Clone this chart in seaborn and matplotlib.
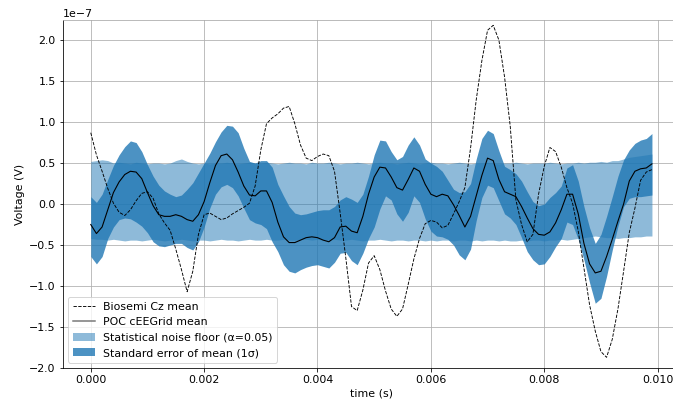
import numpy as np
import matplotlib
matplotlib.use("Agg")
import matplotlib.pyplot as plt
import seaborn as sns
from matplotlib.lines import Line2D
from matplotlib.patches import Patch

# sample times (s), one sample every 0.1 ms
t = np.arange(100) * 1e-4

# all voltages below are in units of 1e-7 V
biosemi_cz = [
    0.87, 0.60, 0.40, 0.19, 0.01, -0.10, -0.14, -0.07, 0.04, 0.13,
    0.15, 0.07, -0.12, -0.23, -0.32, -0.55, -0.80, -1.07, -0.82, -0.37,
    -0.13, -0.11, -0.15, -0.19, -0.17, -0.12, -0.08, -0.04, 0.01, 0.22,
    0.66, 0.98, 1.05, 1.10, 1.17, 1.19, 0.98, 0.72, 0.56, 0.53,
    0.58, 0.61, 0.59, 0.40, -0.11, -0.66, -1.25, -1.30, -1.05, -0.72,
    -0.63, -0.80, -1.06, -1.28, -1.37, -1.28, -0.98, -0.67, -0.42, -0.24,
    -0.20, -0.22, -0.29, -0.26, -0.12, 0.03, 0.20, 0.68, 1.27, 1.75,
    2.12, 2.18, 2.00, 1.55, 0.95, 0.05, -0.25, -0.46, -0.37, 0.12,
    0.46, 0.69, 0.64, 0.45, 0.20, 0.01, -0.33, -0.78, -1.23, -1.55,
    -1.80, -1.87, -1.65, -1.28, -0.82, -0.35, -0.05, 0.29, 0.39, 0.42,
]

poc_mean = [
    -0.25, -0.36, -0.28, -0.07, 0.14, 0.27, 0.36, 0.40, 0.39, 0.31,
    0.14, -0.02, -0.13, -0.15, -0.15, -0.13, -0.15, -0.19, -0.21, -0.13,
    0.03, 0.26, 0.47, 0.59, 0.61, 0.54, 0.39, 0.22, 0.11, 0.10,
    0.16, 0.16, 0.02, -0.22, -0.40, -0.47, -0.47, -0.44, -0.41, -0.40,
    -0.41, -0.44, -0.46, -0.41, -0.28, -0.27, -0.33, -0.35, -0.15, 0.12,
    0.33, 0.45, 0.44, 0.33, 0.20, 0.17, 0.30, 0.44, 0.40, 0.24,
    0.12, 0.09, 0.12, 0.10, -0.01, -0.14, -0.28, -0.15, 0.10, 0.35,
    0.56, 0.53, 0.30, 0.15, 0.12, 0.09, -0.03, -0.17, -0.30, -0.37,
    -0.38, -0.34, -0.23, -0.07, 0.12, 0.12, -0.12, -0.48, -0.73, -0.84,
    -0.82, -0.64, -0.43, -0.21, 0.00, 0.28, 0.40, 0.43, 0.44, 0.49,
]

sem_upper = [
    0.09, 0.02, 0.12, 0.30, 0.47, 0.60, 0.70, 0.77, 0.75, 0.64,
    0.48, 0.34, 0.23, 0.16, 0.12, 0.09, 0.11, 0.18, 0.26, 0.38,
    0.50, 0.62, 0.76, 0.88, 0.96, 0.95, 0.87, 0.68, 0.52, 0.50,
    0.53, 0.53, 0.45, 0.24, 0.10, -0.03, -0.11, -0.13, -0.12, -0.10,
    -0.08, -0.07, -0.07, -0.03, 0.05, 0.09, 0.06, 0.02, 0.12, 0.34,
    0.60, 0.78, 0.77, 0.64, 0.54, 0.58, 0.72, 0.82, 0.72, 0.55,
    0.50, 0.46, 0.40, 0.29, 0.18, 0.14, 0.15, 0.25, 0.55, 0.80,
    0.90, 0.86, 0.65, 0.46, 0.42, 0.37, 0.28, 0.15, 0.03, -0.02,
    0.00, 0.08, 0.14, 0.22, 0.44, 0.48, 0.28, -0.03, -0.29, -0.48,
    -0.37, -0.15, 0.09, 0.34, 0.54, 0.66, 0.74, 0.78, 0.80, 0.86,
]

sem_lower = [
    -0.64, -0.73, -0.64, -0.42, -0.28, -0.19, -0.17, -0.18, -0.22, -0.27,
    -0.35, -0.46, -0.51, -0.52, -0.50, -0.48, -0.48, -0.53, -0.56, -0.46,
    -0.28, -0.05, 0.12, 0.21, 0.24, 0.20, 0.10, -0.05, -0.19, -0.23,
    -0.25, -0.30, -0.46, -0.58, -0.74, -0.82, -0.84, -0.80, -0.77, -0.75,
    -0.74, -0.76, -0.78, -0.71, -0.60, -0.59, -0.69, -0.74, -0.60, -0.42,
    -0.28, -0.06, 0.10, 0.05, -0.12, -0.21, -0.10, 0.10, 0.02, -0.18,
    -0.33, -0.39, -0.40, -0.43, -0.50, -0.62, -0.68, -0.55, -0.20, 0.08,
    0.23, 0.20, 0.04, -0.12, -0.17, -0.25, -0.41, -0.58, -0.68, -0.74,
    -0.73, -0.64, -0.52, -0.42, -0.22, -0.25, -0.43, -0.68, -0.96, -1.21,
    -1.15, -0.88, -0.56, -0.27, -0.03, 0.07, 0.09, 0.09, 0.10, 0.11,
]

noise_upper = [
    0.52, 0.53, 0.54, 0.53, 0.50, 0.51, 0.50, 0.49, 0.51, 0.50,
    0.49, 0.50, 0.50, 0.49, 0.50, 0.53, 0.55, 0.52, 0.50, 0.49,
    0.50, 0.49, 0.50, 0.50, 0.51, 0.50, 0.49, 0.50, 0.51, 0.50,
    0.50, 0.51, 0.50, 0.49, 0.50, 0.51, 0.50, 0.50, 0.49, 0.51,
    0.50, 0.50, 0.51, 0.50, 0.49, 0.50, 0.50, 0.51, 0.50, 0.49,
    0.50, 0.51, 0.50, 0.50, 0.49, 0.50, 0.51, 0.50, 0.49, 0.50,
    0.51, 0.50, 0.50, 0.49, 0.50, 0.51, 0.50, 0.49, 0.50, 0.50,
    0.51, 0.50, 0.49, 0.50, 0.50, 0.51, 0.50, 0.49, 0.50, 0.50,
    0.50, 0.51, 0.50, 0.49, 0.50, 0.50, 0.51, 0.50, 0.51, 0.51,
    0.52, 0.51, 0.53, 0.53, 0.55, 0.57, 0.58, 0.59, 0.60, 0.61,
]

noise_lower = [
    -0.42, -0.43, -0.43, -0.44, -0.43, -0.44, -0.45, -0.44, -0.44, -0.45,
    -0.44, -0.43, -0.44, -0.45, -0.44, -0.44, -0.43, -0.44, -0.45, -0.44,
    -0.44, -0.45, -0.44, -0.43, -0.44, -0.44, -0.45, -0.44, -0.43, -0.44,
    -0.44, -0.43, -0.44, -0.44, -0.43, -0.44, -0.44, -0.43, -0.43, -0.44,
    -0.43, -0.44, -0.44, -0.43, -0.44, -0.44, -0.43, -0.44, -0.45, -0.44,
    -0.44, -0.43, -0.44, -0.45, -0.44, -0.44, -0.45, -0.44, -0.44, -0.45,
    -0.44, -0.45, -0.44, -0.44, -0.45, -0.44, -0.44, -0.45, -0.44, -0.45,
    -0.44, -0.44, -0.45, -0.44, -0.45, -0.45, -0.44, -0.45, -0.44, -0.44,
    -0.45, -0.44, -0.44, -0.43, -0.44, -0.43, -0.42, -0.41, -0.40, -0.39,
    -0.40, -0.41, -0.41, -0.42, -0.41, -0.41, -0.40, -0.40, -0.39, -0.39,
]

SCALE = 1e-7
blue = "#1f77b4"

plt.rcParams["font.size"] = 11

fig = plt.figure(figsize=(673 / 72, 399 / 72), dpi=72)
ax = fig.add_axes([62.7 / 673, 31 / 399, 617.3 / 673, 348 / 399])

ax.fill_between(t, np.array(noise_lower) * SCALE, np.array(noise_upper) * SCALE,
                color=blue, alpha=0.5, lw=0)
ax.fill_between(t, np.array(sem_lower) * SCALE, np.array(sem_upper) * SCALE,
                color=blue, alpha=0.8, lw=0)

sns.lineplot(x=t, y=np.array(biosemi_cz) * SCALE, ax=ax, color="black",
             linestyle="--", linewidth=0.9)
sns.lineplot(x=t, y=np.array(poc_mean) * SCALE, ax=ax, color="black",
             linewidth=1.1)

ax.set_xlim(-0.000495, 0.010395)
ax.set_ylim(-2.0e-7, 2.245e-7)
ax.set_xticks([0.0, 0.002, 0.004, 0.006, 0.008, 0.010])
ax.grid(True, color="#b0b0b0", linewidth=0.8)
ax.set_axisbelow(True)
ax.set_xlabel("time (s)")
ax.set_ylabel("Voltage (V)")
ax.spines["right"].set_visible(False)
ax.spines["top"].set_color("#aaaaaa")

handles = [
    Line2D([0], [0], color="black", linestyle="--", linewidth=0.9),
    Line2D([0], [0], color="#777777", linewidth=1.5),
    Patch(facecolor=blue, alpha=0.5),
    Patch(facecolor=blue, alpha=0.8),
]
labels = [
    "Biosemi Cz mean",
    "POC cEEGrid mean",
    "Statistical noise floor (\u03b1=0.05)",
    "Standard error of mean (1\u03c3)",
]
ax.legend(handles, labels, loc="lower left")

fig.savefig("out.png", dpi=72)
